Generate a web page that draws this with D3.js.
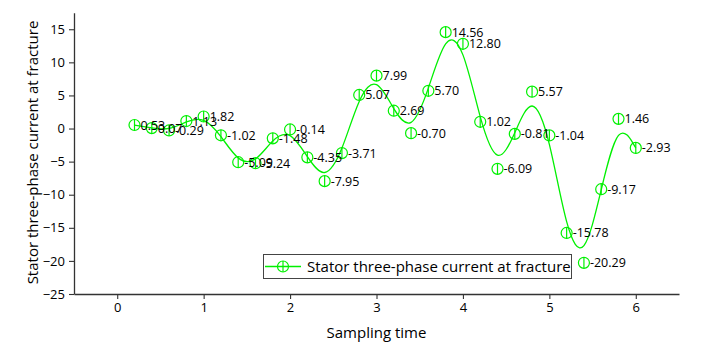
<!DOCTYPE html>
<html>
<head>
<meta charset="utf-8">
<script src="https://cdn.jsdelivr.net/npm/d3@7/dist/d3.min.js"></script>
<style>
  html, body { margin: 0; padding: 0; background: #fff; }
  svg { display: block; font-family: "Open Sans", "Noto Sans", sans-serif; }
</style>
</head>
<body>
<svg id="chart" width="720" height="351"></svg>
<script>
// ---- data ----
const sampleTimes = [0.2,0.4,0.6,0.8,1.0,1.2,1.4,1.6,1.8,2.0,2.2,2.4,2.6,2.8,3.0,3.2,3.4,3.6,3.8,4.0,4.2,4.4,4.6,4.8,5.0,5.2,5.4,5.6,5.8,6.0];
const currentValues = [0.53,0.07,-0.29,1.13,1.82,-1.02,-5.09,-5.24,-1.48,-0.14,-4.35,-7.95,-3.71,5.07,7.99,2.69,-0.70,5.70,14.56,12.80,1.02,-6.09,-0.81,5.57,-1.04,-15.78,-20.29,-9.17,1.46,-2.93];
const xTicks = [0,1,2,3,4,5,6];
const yTicks = [-25,-20,-15,-10,-5,0,5,10,15];
const seriesName = "Stator three-phase current at fracture";
const xTitle = "Sampling time";
const yTitle = "Stator three-phase current at fracture";

const green = "#00f000";
const axisColor = "#333";

const svg = d3.select("#chart");
const x = d3.scaleLinear().domain([-0.5, 6.5]).range([74, 679]);
const y = d3.scaleLinear().domain([-25, 17.5]).range([294, 12.7]);

// minor ticks
const xMinor = d3.range(-0.5, 6.51, 0.5).filter(v => Math.abs(v - Math.round(v)) > 0.01);
const yMinor = d3.range(-22.5, 17.5, 5);

const gx = svg.append("g").attr("transform", `translate(0,${y(-25)})`);
gx.call(d3.axisBottom(x).tickValues(xMinor).tickSize(3).tickFormat("").tickSizeOuter(0));
gx.call(d3.axisBottom(x).tickValues(xTicks).tickSize(5).tickPadding(4).tickSizeOuter(0).tickFormat(d3.format("d")));
const gy = svg.append("g").attr("transform", `translate(${x(-0.5)},0)`);
gy.call(d3.axisLeft(y).tickValues(yMinor).tickSize(3).tickFormat("").tickSizeOuter(0));
gy.call(d3.axisLeft(y).tickValues(yTicks).tickSize(5).tickPadding(4).tickSizeOuter(0).tickFormat(d3.format("d")));
svg.selectAll(".domain").attr("stroke", axisColor).attr("stroke-width", 1.3);
svg.selectAll(".tick line").attr("stroke", axisColor).attr("stroke-width", 1.1);
svg.selectAll(".tick text").attr("fill", "#000").style("font-size", "13px").style("font-family", "'Open Sans', sans-serif");

// axis titles
svg.append("text").attr("x", x(3)).attr("y", 338).attr("text-anchor", "middle")
  .style("font-size", "15px").attr("fill", "#000").text(xTitle);
svg.append("text").attr("transform", `translate(38,${(22+283)/2}) rotate(-90)`).attr("text-anchor", "middle")
  .style("font-size", "15px").attr("fill", "#000").text(yTitle);

const data = sampleTimes.map((t, i) => ({t, v: currentValues[i]}));

// smooth curve
const line = d3.line().x(d => x(d.t)).y(d => y(d.v)).curve(d3.curveBasis);
svg.append("path").datum(data).attr("d", line).attr("fill", "none")
  .attr("stroke", green).attr("stroke-width", 1.3);

// markers
function marker(g, cx, cy) {
  g.append("circle").attr("cx", cx).attr("cy", cy).attr("r", 5.5)
    .attr("fill", "none").attr("stroke", green).attr("stroke-width", 1.2);
  g.append("line").attr("x1", cx).attr("x2", cx).attr("y1", cy - 5.5).attr("y2", cy + 5.5)
    .attr("stroke", green).attr("stroke-width", 1.2);
}
const mg = svg.append("g");
data.forEach(d => marker(mg, x(d.t), y(d.v)));

// labels
svg.append("g").selectAll("text").data(data).join("text")
  .attr("x", d => x(d.t) + 6)
  .attr("y", d => y(d.v))
  .attr("dy", "0.36em")
  .style("font-size", "12.5px")
  .attr("fill", "#000")
  .text(d => d.v.toFixed(2));

// legend
const lg = svg.append("g");
lg.append("rect").attr("x", 263.5).attr("y", 254.5).attr("width", 308).attr("height", 24)
  .attr("fill", "#fff").attr("stroke", "#444").attr("stroke-width", 1);
lg.append("line").attr("x1", 265).attr("x2", 301).attr("y1", 266.5).attr("y2", 266.5)
  .attr("stroke", green).attr("stroke-width", 1.3);
marker(lg, 283, 266.5);
lg.append("text").attr("x", 307).attr("y", 266.5).attr("dy", "0.36em")
  .style("font-size", "15px").attr("fill", "#000").text(seriesName);
</script>
</body>
</html>
